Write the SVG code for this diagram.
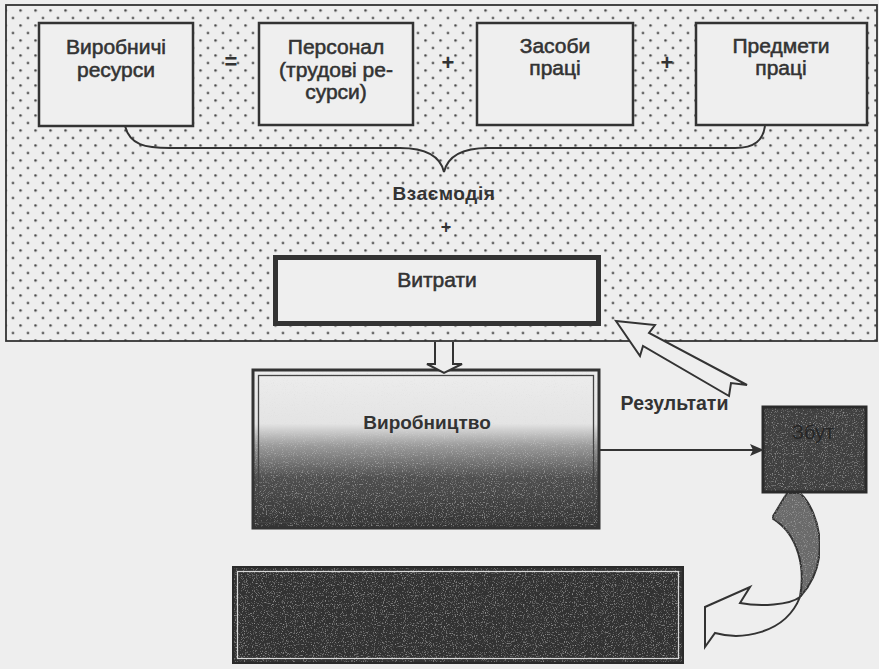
<svg xmlns="http://www.w3.org/2000/svg" width="879" height="669" viewBox="0 0 879 669">
<style>
text{font-family:"Liberation Sans",Arial,sans-serif;fill:#333}
.t{font-size:21px;text-anchor:middle;stroke:#333;stroke-width:0.55}
.b{font-weight:bold;text-anchor:middle}
.op{font-size:22px;font-weight:bold;text-anchor:middle}
.box{fill:#efefef;stroke:#333;stroke-width:2.5}
.ln{fill:none;stroke:#333;stroke-width:2}
.hol{fill:#eeeeee;stroke:#333;stroke-width:2;stroke-linejoin:miter}
</style>
<defs>
<pattern id="dots" patternUnits="userSpaceOnUse" x="9.25" y="14.25" width="15" height="15">
<circle cx="3.75" cy="3.75" r="1.25" fill="#444"/>
<circle cx="11.25" cy="11.25" r="1.25" fill="#444"/>
</pattern>
<linearGradient id="prod" x1="0" y1="0" x2="0" y2="1">
<stop offset="0" stop-color="#ededed"/>
<stop offset="0.34" stop-color="#e4e4e4"/>
<stop offset="0.48" stop-color="#9a9a9a"/>
<stop offset="0.68" stop-color="#505050"/>
<stop offset="1" stop-color="#343434"/>
</linearGradient>
<filter id="grain" x="0" y="0" width="1" height="1">
<feTurbulence type="fractalNoise" baseFrequency="0.9" numOctaves="2" seed="3" result="n"/>
<feColorMatrix in="n" type="matrix" values="0 0 0 0 0.7  0 0 0 0 0.7  0 0 0 0 0.7  1.3 0 0 0 -0.72" result="w"/>
<feComposite in="w" in2="SourceGraphic" operator="in" result="wm"/>
<feMerge><feMergeNode in="SourceGraphic"/><feMergeNode in="wm"/></feMerge>
</filter>
<marker id="ah" markerWidth="14" markerHeight="12" refX="13" refY="6" orient="auto" markerUnits="userSpaceOnUse">
<path d="M0,0 L14,6 L0,12 L3,6 Z" fill="#333"/>
</marker>
</defs>
<rect width="879" height="669" fill="#eeeeee"/>
<g id="resource-area">
<rect x="6" y="5" width="871" height="336" fill="#eeeeee"/>
<rect x="6" y="5" width="871" height="336" fill="url(#dots)" stroke="#333" stroke-width="1.8"/>
</g>
<g id="vyrobnychi-resursy">
<rect class="box" x="39" y="23" width="154" height="103"/>
<text class="t" x="116" y="54">Виробничі</text>
<text class="t" x="116" y="77">ресурси</text>
</g>
<g id="personal">
<rect class="box" x="259" y="23" width="154" height="102"/>
<text class="t" x="336" y="54">Персонал</text>
<text class="t" x="336" y="77">(трудові ре-</text>
<text class="t" x="336" y="99">сурси)</text>
</g>
<g id="zasoby">
<rect class="box" x="477" y="23" width="156" height="102"/>
<text class="t" x="555" y="53">Засоби</text>
<text class="t" x="555" y="75">праці</text>
</g>
<g id="predmety">
<rect class="box" x="696" y="23" width="171" height="102"/>
<text class="t" x="781" y="53">Предмети</text>
<text class="t" x="781" y="75">праці</text>
</g>
<g id="operators">
<text class="op" x="231" y="69">=</text>
<text class="op" x="448" y="70">+</text>
<text class="op" x="667" y="70">+</text>
<text class="b" x="444" y="200" style="font-size:19px;letter-spacing:0.6px">Взаємодія</text>
<text class="op" x="446" y="233" style="font-size:18px">+</text>
</g>
<g id="vytraty">
<rect x="275.5" y="257.5" width="323" height="66" fill="#efefef" stroke="#333" stroke-width="5"/>
<text class="t" x="437" y="287">Витрати</text>
</g>
<g id="vyrobnytstvo">
<rect x="253" y="370" width="346" height="158" fill="url(#prod)" filter="url(#grain)"/>
<rect x="253" y="370" width="346" height="158" fill="none" stroke="#333" stroke-width="3"/>
<rect x="258.5" y="375.5" width="335" height="147" fill="none" stroke="#444" stroke-width="1.3"/>
<text class="b" x="427" y="429" style="font-size:19px">Виробництво</text>
</g>
<g id="zbut">
<rect x="763" y="407" width="103" height="85" fill="#404040" filter="url(#grain)"/>
<rect x="763" y="407" width="103" height="85" fill="none" stroke="#2a2a2a" stroke-width="3"/>
<text x="813" y="439" style="font-size:20px;text-anchor:middle;fill:#262626">Збут</text>
</g>
<g id="bottom-box">
<rect x="233" y="567" width="450" height="96" fill="#333" filter="url(#grain)"/>
<rect x="233" y="567" width="450" height="96" fill="none" stroke="#2a2a2a" stroke-width="2"/>
<rect x="237.5" y="571.5" width="441" height="87" fill="none" stroke="#d8d8d8" stroke-width="1.2"/>
</g>
<g id="connectors">
<path class="ln" d="M125,126 C130,145 145,148 170,148 L400,148 C425,148 440,155 444,172 C448,155 463,148 488,148 L735,148 C755,148 763,140 765,126"/>
<path class="hol" d="M435,342 L435,364 L427,364 L444,373 L462,364 L453,364 L453,342"/>
<line class="ln" x1="600" y1="450" x2="763" y2="450" stroke-width="2.5" marker-end="url(#ah)"/>
<path class="hol" d="M616,321 L655,325 L649,333 L747,385 L731,383 L729,396 L643,346 L640,356 Z"/>
<text class="b" x="674.5" y="410" style="font-size:19.5px">Результати</text>
<path d="M787,493 L800,493 C820,512 832,562 800,597 C805,570 800,535 772,518 Z" fill="#6a6a6a" stroke="#333" stroke-width="2" filter="url(#grain)"/>
<path class="hol" d="M800,597 C785,635 740,640 715,633 L705,647 L705,607 L750,587 L740,603 C760,607 790,605 800,597 Z"/>
</g>
</svg>
